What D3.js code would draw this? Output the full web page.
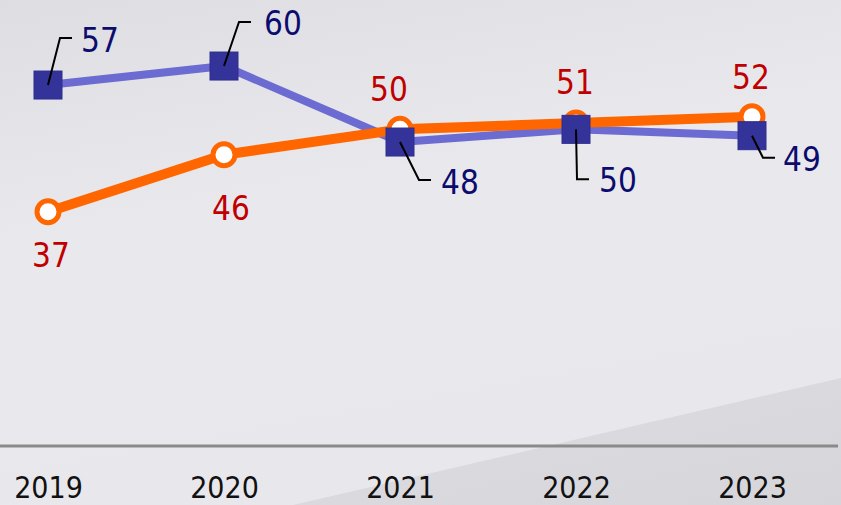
<!DOCTYPE html>
<html>
<head>
<meta charset="utf-8">
<script src="https://cdn.jsdelivr.net/npm/d3@7"></script>
<style>
  html, body { margin: 0; padding: 0; background: #e6e6ea; }
  svg { display: block; }
  text { font-family: "DejaVu Sans Condensed", "DejaVu Sans", sans-serif; font-stretch: condensed; }
</style>
</head>
<body>
<svg id="chart" width="841" height="505"></svg>
<script>
// ---- data ----
const years = ["2019", "2020", "2021", "2022", "2023"];
const seriesBlue = [57, 60, 48, 50, 49];
const seriesOrange = [37, 46, 50, 51, 52];

// ---- label layout (offsets from each point) ----
const blueLabelOffsets = [[33, -33], [40, -31], [41, 52], [23, 63], [31, 35]];
const blueLeaders = [
  [[12, -47], [24, -47]],
  [[15, -44], [27, -44]],
  [[19, 38], [31, 38]],
  [[1, 50], [13, 50]],
  [[11, 22], [23, 22]]
];
const orangeLabelOffsets = [[3, 55], [7, 65], [-11, -28], [-1, -29], [-1, -28]];

const W = 841, H = 505;
const svg = d3.select("#chart");

// ---- background ----
const defs = svg.append("defs");
const g1 = defs.append("linearGradient").attr("id", "bg").attr("x1", 0).attr("y1", 0).attr("x2", 0.3).attr("y2", 1);
g1.append("stop").attr("offset", "0%").attr("stop-color", "#dedee2");
g1.append("stop").attr("offset", "45%").attr("stop-color", "#e9e9ed");
g1.append("stop").attr("offset", "100%").attr("stop-color", "#e8e8ec");
svg.append("rect").attr("width", W).attr("height", H).attr("fill", "url(#bg)");
const g2 = defs.append("linearGradient").attr("id", "bgd").attr("x1", 0).attr("y1", 0).attr("x2", 1).attr("y2", 1);
g2.append("stop").attr("offset", "0%").attr("stop-color", "#dedee2");
g2.append("stop").attr("offset", "100%").attr("stop-color", "#d6d6da");
svg.append("path").attr("d", "M293,505 L841,378 L841,505 Z").attr("fill", "url(#bgd)");

// ---- scales ----
const x = d3.scalePoint().domain(years).range([48, 752]);
const y = d3.scaleLinear().domain([0, 70]).range([446, 2.7]);

// ---- axis ----
svg.append("line").attr("x1", 0).attr("x2", 838).attr("y1", y(0)).attr("y2", y(0))
  .attr("stroke", "#8a8a8c").attr("stroke-width", 3);
const ax = svg.append("g").attr("transform", `translate(0,${y(0)})`)
  .call(d3.axisBottom(x).tickSize(0).tickPadding(0));
ax.select(".domain").remove();
ax.selectAll("text").attr("font-size", 30).attr("fill", "#111").attr("dy", 0).attr("y", 52)
  .style("font-family", '"DejaVu Sans Condensed", "DejaVu Sans", sans-serif');

const blueData = years.map((yr, i) => ({ yr, v: seriesBlue[i], i }));
const orangeData = years.map((yr, i) => ({ yr, v: seriesOrange[i], i }));
const line = d3.line().x(d => x(d.yr)).y(d => y(d.v));

// lines
svg.append("path").datum(blueData).attr("d", line).attr("fill", "none")
  .attr("stroke", "#6b6bd2").attr("stroke-width", 8).attr("stroke-linejoin", "round");
svg.append("path").datum(orangeData).attr("d", line).attr("fill", "none")
  .attr("stroke", "#ff6600").attr("stroke-width", 10).attr("stroke-linejoin", "round");

// orange markers
svg.selectAll("circle.o").data(orangeData).enter().append("circle")
  .attr("cx", d => x(d.yr)).attr("cy", d => y(d.v)).attr("r", 11)
  .attr("fill", "#ffffff").attr("stroke", "#ff6600").attr("stroke-width", 5);

// blue markers
svg.selectAll("rect.b").data(blueData).enter().append("rect")
  .attr("x", d => x(d.yr) - 14).attr("y", d => y(d.v) - 14)
  .attr("width", 28).attr("height", 28).attr("fill", "#333399")
  .attr("stroke", "#2e2e90").attr("stroke-width", 1);

// leader lines
svg.selectAll("path.lead").data(blueData).enter().append("path")
  .attr("d", d => {
    const px = x(d.yr), py = y(d.v), L = blueLeaders[d.i];
    return `M${px},${py} L${px + L[0][0]},${py + L[0][1]} L${px + L[1][0]},${py + L[1][1]}`;
  })
  .attr("fill", "none").attr("stroke", "#000").attr("stroke-width", 2);

// labels
svg.selectAll("text.bl").data(blueData).enter().append("text")
  .attr("x", d => x(d.yr) + blueLabelOffsets[d.i][0])
  .attr("y", d => y(d.v) + blueLabelOffsets[d.i][1])
  .attr("font-size", 33).attr("fill", "#0c0c6e").text(d => d.v);
svg.selectAll("text.ol").data(orangeData).enter().append("text")
  .attr("x", d => x(d.yr) + orangeLabelOffsets[d.i][0])
  .attr("y", d => y(d.v) + orangeLabelOffsets[d.i][1])
  .attr("text-anchor", "middle")
  .attr("font-size", 33).attr("fill", "#c00000").text(d => d.v);
</script>
</body>
</html>
